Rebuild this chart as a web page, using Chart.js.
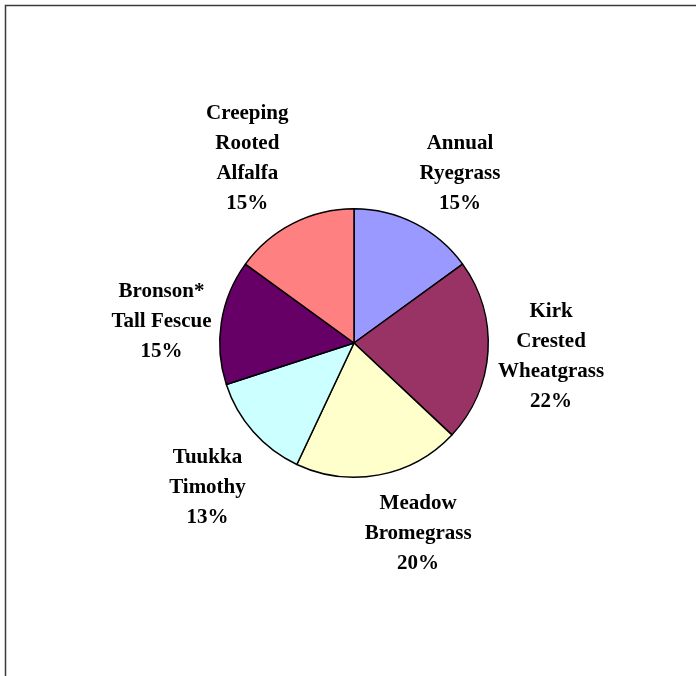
<!DOCTYPE html>
<html>
<head>
<meta charset="utf-8">
<script src="https://cdn.jsdelivr.net/npm/chart.js@4.4.0/dist/chart.umd.min.js"></script>
<style>
  html, body { margin: 0; padding: 0; background: #fff; }
  #wrap { width: 696px; height: 676px; }
</style>
</head>
<body>
<div id="wrap"><canvas id="pie"></canvas></div>
<script>
// slices, clockwise from 12 o'clock
let names = ['Annual Ryegrass', 'Kirk Crested Wheatgrass', 'Meadow Bromegrass', 'Tuukka Timothy', 'Bronson* Tall Fescue', 'Creeping Rooted Alfalfa'];
let nameLines = [
    ['Annual', 'Ryegrass'],
    ['Kirk', 'Crested', 'Wheatgrass'],
    ['Meadow', 'Bromegrass'],
    ['Tuukka', 'Timothy'],
    ['Bronson*', 'Tall Fescue'],
    ['Creeping', 'Rooted', 'Alfalfa']
];
let shares = [15, 22, 20, 13, 15, 15];
let sliceColors = ['#9999FF', '#993366', '#FFFFCC', '#CCFFFF', '#660066', '#FF8080'];

const labelFont = 'bold 21px "Liberation Serif", "Times New Roman", serif';
const lineH = 30;

// frame lines of the original (only top and left edges show)
const framePlugin = {
    id: 'frame',
    beforeDraw(chart) {
        const c = chart.ctx;
        c.save();
        c.fillStyle = '#fff';
        c.fillRect(0, 0, chart.width, chart.height);
        c.strokeStyle = '#3a3a3a';
        c.lineWidth = 1.5;
        c.beginPath();
        c.moveTo(5.5, chart.height);
        c.lineTo(5.5, 5.5);
        c.lineTo(chart.width, 5.5);
        c.stroke();
        c.restore();
    }
};

function clamp1(v) { return Math.max(-1, Math.min(1, v)); }

// outside labels: the label box hangs off an anchor point just outside the rim
const outsideLabels = {
    id: 'outsideLabels',
    afterDatasetsDraw(chart) {
        const c = chart.ctx;
        const meta = chart.getDatasetMeta(0);
        const total = shares.reduce((a, b) => a + b, 0);
        c.save();
        c.font = labelFont;
        c.fillStyle = '#000';
        c.textAlign = 'center';
        c.textBaseline = 'middle';
        meta.data.forEach((arc, i) => {
            const p = arc.getProps(['x', 'y', 'startAngle', 'endAngle', 'outerRadius'], true);
            const mid = (p.startAngle + p.endAngle) / 2;
            const lines = nameLines[i].concat([Math.round(shares[i] / total * 100) + '%']);
            let w = 0;
            lines.forEach(l => { w = Math.max(w, c.measureText(l).width); });
            const h = lines.length * lineH;
            const dx = Math.cos(mid), dy = Math.sin(mid);
            const r = p.outerRadius + 10;
            const cx = p.x + dx * r + clamp1(dx * 3.7) * w / 2;
            const cy = p.y + dy * r + Math.sign(dy) * Math.min(1, dy * dy * 2.5) * h / 2 + 4;
            lines.forEach((l, j) => {
                c.fillText(l, cx, cy + (j - (lines.length - 1) / 2) * lineH);
            });
        });
        c.restore();
    }
};

const ctx = document.getElementById('pie').getContext('2d');

let myChart = new Chart(ctx, {
    type: 'pie',
    data: {
        labels: names,
        datasets: [{
            data: shares,
            backgroundColor: sliceColors,
            borderColor: '#000',
            borderWidth: 1.5
        }]
    },
    options: {
        responsive: true,
        maintainAspectRatio: false,
        animation: false,
        layout: {
            padding: { left: 219, right: 207, top: 208, bottom: 198 }
        },
        plugins: {
            legend: { display: false },
            tooltip: { enabled: false }
        }
    },
    plugins: [framePlugin, outsideLabels]
});
</script>
</body>
</html>
